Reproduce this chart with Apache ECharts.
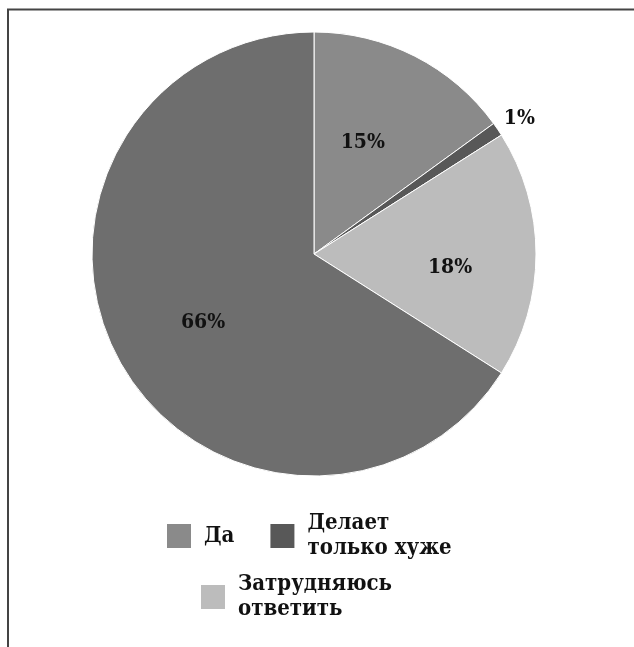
<!DOCTYPE html>
<html>
<head>
<meta charset="utf-8">
<script src="https://cdn.jsdelivr.net/npm/echarts@6/dist/echarts.min.js"></script>
<style>html,body{margin:0;padding:0;background:#fff}#c{width:634px;height:647px}</style>
</head>
<body>
<div id="c"></div>
<script>
const categories = ['Да', 'Делает только хуже', 'Затрудняюсь ответить', 'Нет'];
const values = [15, 1, 18, 66];
const legendRow1 = ['Да', 'Делает только хуже'];
const legendRow2 = ['Затрудняюсь ответить'];

const colors = ['#8a8a8a', '#585858', '#bcbcbc', '#6e6e6e'];
const labelOffsets = [[-3, -10], [111, -71], [22, 14], [-11, 14]];

const font = 'DejaVu Serif Condensed, DejaVu Serif, serif';
const chart = echarts.init(document.getElementById('c'));
const legendText = {
  fontFamily: font, fontWeight: 'bold', fontSize: 22, lineHeight: 25, color: '#111',
  padding: [0, 0, 0, 7]
};
chart.setOption({
  animation: false,
  graphic: [
    { type: 'line', shape: { x1: 7, y1: 9.5, x2: 634, y2: 9.5 }, style: { stroke: '#444', lineWidth: 2 } },
    { type: 'line', shape: { x1: 8, y1: 9, x2: 8, y2: 647 }, style: { stroke: '#444', lineWidth: 2 } }
  ],
  legend: [
    { data: legendRow1, left: 160, top: 506, itemWidth: 26, itemHeight: 26, itemGap: 34, icon: 'rect',
      selectedMode: false, textStyle: legendText, formatter: n => n.replace(' ', '\n') },
    { data: legendRow2, left: 194, top: 567, itemWidth: 26, itemHeight: 26, icon: 'rect',
      selectedMode: false, textStyle: legendText, formatter: n => n.replace(' ', '\n') }
  ],
  series: [{
    type: 'pie',
    center: [314, 254],
    radius: 222,
    startAngle: 90,
    clockwise: true,
    silent: true,
    itemStyle: { borderColor: '#fff', borderWidth: 1 },
    label: {
      position: 'inside', formatter: p => p.value + '%',
      fontFamily: font, fontWeight: 'bold', fontSize: 21, color: '#111'
    },
    labelLine: { show: false },
    data: categories.map((c, i) => ({
      name: c, value: values[i],
      itemStyle: { color: colors[i] },
      label: { offset: labelOffsets[i] }
    }))
  }]
});
</script>
</body>
</html>
